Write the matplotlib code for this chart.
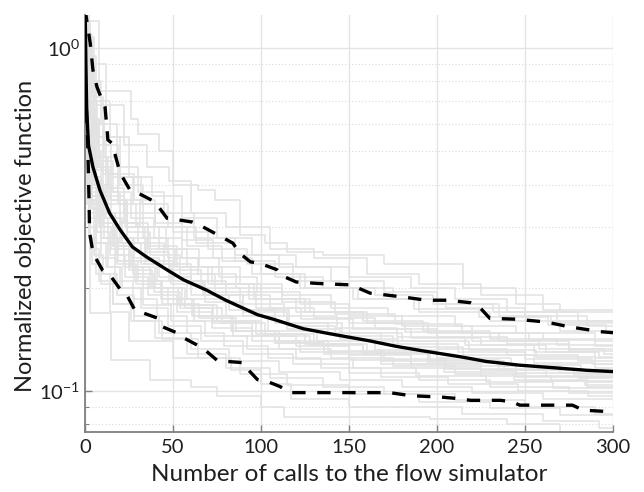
import matplotlib
matplotlib.use("Agg")
import matplotlib.pyplot as plt
from matplotlib.ticker import LogLocator, NullFormatter, FixedLocator

plt.rcParams['font.family'] = ['Lato', 'DejaVu Sans']
plt.rcParams['mathtext.default'] = 'regular'

# ---------------- data ----------------
mean_x = [0, 0.5, 1, 2, 4.5, 8.5, 14, 20, 27, 35, 47, 56, 69, 80, 98, 107, 124, 139,
          162, 177, 192, 213, 228, 247, 266, 285, 300]
mean_y = [1.4, 0.9, 0.65, 0.52, 0.45, 0.385, 0.33, 0.295, 0.263, 0.246, 0.225, 0.211,
          0.197, 0.184, 0.167, 0.162, 0.152, 0.147, 0.14, 0.135, 0.131, 0.126, 0.122,
          0.119, 0.117, 0.115, 0.114]

upper_x = [0, 3, 4.5, 6.8, 9.7, 11.4, 13, 15.3, 20, 25.6, 30, 38, 41, 46.6, 54, 61, 65,
           84, 88, 94, 99, 109, 111, 120, 132, 151, 162, 181, 194, 206, 219, 224, 230,
           245, 262, 275, 293, 300]
upper_y = [1.3, 1.03, 0.863, 0.77, 0.705, 0.673, 0.54, 0.528, 0.432, 0.385, 0.378, 0.36,
           0.349, 0.319, 0.315, 0.311, 0.305, 0.27, 0.252, 0.238, 0.236, 0.226, 0.218,
           0.208, 0.206, 0.204, 0.193, 0.188, 0.184, 0.184, 0.181, 0.176, 0.163, 0.162,
           0.159, 0.154, 0.149, 0.148]

lower_x = [0, 0.5, 1.5, 2.3, 2.6, 4, 5.7, 10, 15, 20, 23.9, 28.4, 33, 41.5, 44, 52, 56,
           64, 68, 75, 81, 90, 93, 98, 103, 111, 116, 126, 158, 173, 185, 203, 213, 219,
           236, 243, 247, 277, 283, 300]
lower_y = [0.78, 0.74, 0.54, 0.36, 0.29, 0.263, 0.246, 0.225, 0.215, 0.198, 0.19, 0.172,
           0.169, 0.163, 0.154, 0.148, 0.143, 0.136, 0.132, 0.123, 0.122, 0.121, 0.115,
           0.108, 0.107, 0.103, 0.099, 0.099, 0.099, 0.099, 0.097, 0.096, 0.095, 0.094,
           0.094, 0.093, 0.091, 0.091, 0.088, 0.087]

# individual optimisation runs (step breakpoints: call number, value held afterwards)
runs_x = [
    [0, 8, 26, 30, 42, 50, 64, 74, 88, 102, 115, 135, 170, 215, 245, 270],
    [0, 3, 12, 22, 35, 48, 60, 80, 105, 130, 160, 190, 225, 260],
    [0, 2, 6, 14, 25, 38, 55, 75, 95, 120, 150, 185, 210, 240, 280],
    [0, 4, 9, 18, 30, 45, 62, 85, 110, 140, 170, 200, 235, 265],
    [0, 1, 5, 11, 20, 33, 50, 70, 92, 118, 145, 175, 205, 250, 285],
    [0, 2, 7, 15, 27, 40, 58, 78, 100, 125, 155, 190, 230, 270],
    [0, 1, 4, 10, 19, 31, 46, 65, 88, 112, 140, 172, 210, 245, 290],
    [0, 3, 8, 16, 26, 39, 55, 76, 98, 122, 150, 180, 220, 260],
    [0, 1, 5, 12, 22, 36, 52, 72, 96, 125, 160, 195, 235, 275],
    [0, 2, 6, 13, 24, 37, 54, 74, 97, 123, 152, 185, 225, 262, 292],
    [0, 1, 3, 9, 17, 28, 42, 60, 82, 108, 138, 168, 200, 240, 280],
    [0, 2, 5, 11, 21, 34, 49, 68, 90, 115, 145, 178, 215, 255, 290],
    [0, 1, 4, 8, 15, 25, 38, 55, 75, 100, 130, 160, 195, 235, 270],
    [0, 1, 3, 7, 14, 23, 36, 52, 72, 95, 122, 150, 185, 225, 265],
    [0, 2, 4, 9, 18, 29, 44, 62, 84, 110, 140, 175, 210, 250, 285],
    [0, 1, 3, 6, 12, 20, 32, 47, 66, 90, 118, 150, 190, 230, 275],
    [0, 1, 2, 5, 10, 18, 28, 42, 60, 82, 110, 145, 180, 220, 260],
    [0, 1, 2, 4, 9, 16, 26, 40, 58, 80, 105, 135, 170, 210, 250, 290],
    [0, 1, 3, 15, 37, 45, 60, 75, 100, 113, 160, 196, 240, 270],
    [0, 1, 3, 8, 16, 28, 44, 64, 88, 115, 150, 190, 230, 270],
    [0, 2, 5, 10, 17, 27, 41, 58, 80, 104, 132, 165, 200, 242, 282],
    [0, 1, 3, 8, 16, 26, 40, 57, 78, 102, 128, 158, 195, 235, 278],
    [0, 3, 7, 14, 24, 36, 51, 70, 93, 120, 150, 182, 220, 258, 295],
    [0, 2, 6, 12, 20, 32, 48, 67, 90, 116, 146, 180, 218, 256, 290],
    [0, 1, 4, 9, 17, 28, 43, 61, 83, 108, 136, 168, 205, 245, 285],
    [0, 4, 10, 20, 32, 47, 63, 85, 108, 135, 165, 198, 232, 268],
    [0, 2, 5, 9, 15, 24, 35, 50, 68, 90, 115, 142, 175, 212, 250, 288],
    [0, 1, 3, 7, 13, 22, 33, 47, 65, 86, 110, 138, 170, 205, 245, 280],
    [0, 3, 6, 12, 19, 29, 42, 58, 78, 100, 128, 158, 192, 230, 268],
    [0, 1, 2, 6, 11, 19, 30, 44, 62, 84, 108, 136, 168, 204, 244, 284],
    [0, 2, 4, 10, 20, 30, 45, 60, 80, 105, 130, 165, 200, 240, 275],
    [0, 1, 4, 10, 18, 27, 39, 54, 72, 95, 120, 150, 185, 225, 262],
    [0, 2, 5, 13, 22, 33, 47, 64, 86, 112, 142, 176, 214, 252, 290],
    [0, 1, 3, 6, 13, 21, 33, 49, 68, 92, 120, 152, 188, 228, 266],
    [0, 5, 11, 19, 28, 40, 55, 73, 95, 122, 152, 187, 224, 263, 296],
    [0, 1, 2, 5, 9, 17, 27, 41, 58, 79, 104, 134, 168, 206, 246, 286],
    [0, 3, 8, 15, 23, 34, 48, 66, 88, 113, 143, 177, 216, 255, 290],
    [0, 1, 3, 9, 16, 25, 37, 53, 73, 97, 125, 158, 196, 238, 278],
    [0, 1, 2, 6, 14, 25, 50, 83, 100, 117, 150, 214, 260, 292],
]
runs_y = [
    [1.2, 0.75, 0.62, 0.56, 0.5, 0.4, 0.385, 0.36, 0.285, 0.27, 0.255, 0.25, 0.235, 0.2, 0.18, 0.17],
    [1.15, 0.9, 0.68, 0.52, 0.45, 0.41, 0.33, 0.30, 0.26, 0.245, 0.22, 0.205, 0.19, 0.172],
    [1.25, 0.95, 0.7, 0.55, 0.42, 0.37, 0.32, 0.28, 0.25, 0.23, 0.215, 0.2, 0.185, 0.17, 0.16],
    [1.0, 0.8, 0.6, 0.45, 0.38, 0.33, 0.28, 0.25, 0.23, 0.21, 0.195, 0.18, 0.165, 0.158],
    [1.1, 0.85, 0.6, 0.48, 0.4, 0.33, 0.29, 0.26, 0.235, 0.21, 0.2, 0.185, 0.175, 0.165, 0.155],
    [0.95, 0.7, 0.52, 0.42, 0.35, 0.3, 0.265, 0.24, 0.22, 0.2, 0.185, 0.17, 0.16, 0.15],
    [1.2, 0.8, 0.55, 0.43, 0.36, 0.3, 0.26, 0.23, 0.205, 0.19, 0.175, 0.165, 0.155, 0.148, 0.14],
    [0.9, 0.62, 0.47, 0.38, 0.32, 0.28, 0.245, 0.215, 0.195, 0.18, 0.165, 0.155, 0.148, 0.142],
    [1.05, 0.7, 0.48, 0.37, 0.31, 0.265, 0.23, 0.205, 0.185, 0.17, 0.158, 0.148, 0.14, 0.133],
    [1.15, 0.66, 0.45, 0.35, 0.29, 0.25, 0.22, 0.195, 0.175, 0.162, 0.152, 0.143, 0.136, 0.13, 0.126],
    [0.85, 0.6, 0.42, 0.33, 0.28, 0.245, 0.215, 0.19, 0.172, 0.158, 0.148, 0.14, 0.133, 0.127, 0.122],
    [1.3, 0.62, 0.4, 0.32, 0.27, 0.235, 0.205, 0.182, 0.165, 0.152, 0.142, 0.134, 0.127, 0.121, 0.117],
    [0.95, 0.55, 0.38, 0.3, 0.26, 0.225, 0.2, 0.178, 0.16, 0.147, 0.137, 0.13, 0.123, 0.118, 0.113],
    [1.1, 0.5, 0.36, 0.29, 0.25, 0.215, 0.19, 0.17, 0.153, 0.14, 0.13, 0.123, 0.117, 0.111, 0.107],
    [0.8, 0.48, 0.34, 0.28, 0.235, 0.205, 0.18, 0.16, 0.145, 0.133, 0.125, 0.118, 0.112, 0.107, 0.103],
    [1.0, 0.45, 0.32, 0.27, 0.23, 0.2, 0.175, 0.155, 0.14, 0.128, 0.12, 0.113, 0.108, 0.103, 0.099],
    [1.2, 0.42, 0.3, 0.25, 0.22, 0.19, 0.165, 0.148, 0.133, 0.122, 0.114, 0.108, 0.103, 0.099, 0.095],
    [0.9, 0.4, 0.28, 0.235, 0.205, 0.18, 0.16, 0.143, 0.128, 0.117, 0.109, 0.103, 0.098, 0.094, 0.09, 0.086],
    [0.8, 0.35, 0.169, 0.123, 0.108, 0.108, 0.103, 0.097, 0.09, 0.084, 0.084, 0.083, 0.08, 0.076],
    [1.0, 0.38, 0.26, 0.21, 0.18, 0.16, 0.142, 0.125, 0.112, 0.104, 0.098, 0.093, 0.089, 0.085],
    [1.05, 0.58, 0.41, 0.33, 0.28, 0.24, 0.21, 0.185, 0.165, 0.15, 0.14, 0.132, 0.125, 0.119, 0.115],
    [0.92, 0.52, 0.37, 0.31, 0.265, 0.23, 0.2, 0.175, 0.158, 0.145, 0.136, 0.128, 0.121, 0.115, 0.11],
    [1.15, 0.6, 0.44, 0.36, 0.3, 0.26, 0.23, 0.205, 0.185, 0.17, 0.158, 0.149, 0.14, 0.133, 0.128],
    [0.98, 0.56, 0.4, 0.32, 0.27, 0.235, 0.21, 0.19, 0.172, 0.158, 0.148, 0.14, 0.132, 0.126, 0.12],
    [1.25, 0.5, 0.35, 0.28, 0.24, 0.21, 0.185, 0.165, 0.15, 0.138, 0.13, 0.122, 0.116, 0.11, 0.106],
    [1.1, 0.72, 0.55, 0.42, 0.35, 0.3, 0.27, 0.24, 0.215, 0.2, 0.19, 0.18, 0.17, 0.16],
    [1.05, 0.75, 0.5, 0.4, 0.33, 0.28, 0.24, 0.21, 0.19, 0.17, 0.155, 0.145, 0.137, 0.13, 0.124, 0.12],
    [0.88, 0.55, 0.4, 0.32, 0.27, 0.23, 0.2, 0.18, 0.163, 0.15, 0.14, 0.131, 0.124, 0.118, 0.113, 0.109],
    [1.2, 0.8, 0.55, 0.43, 0.35, 0.3, 0.26, 0.23, 0.205, 0.185, 0.17, 0.16, 0.15, 0.142, 0.136],
    [0.97, 0.6, 0.42, 0.33, 0.28, 0.24, 0.21, 0.185, 0.165, 0.15, 0.138, 0.128, 0.12, 0.114, 0.108, 0.104],
    [1.12, 0.7, 0.46, 0.38, 0.31, 0.27, 0.235, 0.21, 0.19, 0.175, 0.163, 0.152, 0.144, 0.137, 0.131],
    [0.83, 0.5, 0.37, 0.3, 0.25, 0.22, 0.195, 0.175, 0.158, 0.145, 0.135, 0.127, 0.12, 0.115, 0.111],
    [1.18, 0.65, 0.48, 0.39, 0.33, 0.28, 0.245, 0.22, 0.2, 0.182, 0.168, 0.157, 0.148, 0.141, 0.135],
    [0.93, 0.45, 0.33, 0.27, 0.23, 0.2, 0.178, 0.16, 0.145, 0.133, 0.124, 0.117, 0.111, 0.106, 0.102],
    [1.08, 0.68, 0.52, 0.43, 0.36, 0.31, 0.275, 0.245, 0.22, 0.2, 0.186, 0.174, 0.164, 0.156, 0.15],
    [1.02, 0.52, 0.36, 0.29, 0.245, 0.21, 0.185, 0.165, 0.148, 0.135, 0.125, 0.117, 0.11, 0.105, 0.1, 0.097],
    [0.87, 0.62, 0.45, 0.36, 0.3, 0.255, 0.225, 0.2, 0.18, 0.165, 0.153, 0.144, 0.136, 0.13, 0.125],
    [1.22, 0.58, 0.39, 0.31, 0.265, 0.23, 0.2, 0.178, 0.16, 0.147, 0.137, 0.129, 0.122, 0.116, 0.112],
    [0.85, 0.4, 0.28, 0.22, 0.17, 0.14, 0.125, 0.115, 0.105, 0.095, 0.09, 0.086, 0.082, 0.078],
]

x_ticks = [0, 50, 100, 150, 200, 250, 300]
x_label = "Number of calls to the flow simulator"
y_label = "Normalized objective function"

# ---------------- figure ----------------
fig = plt.figure(figsize=(6.44, 4.92), dpi=100)
ax = fig.add_axes([85 / 644, 1 - 432 / 492, (613 - 85) / 644, (432 - 15) / 492])

ax.set_yscale('log')
ax.set_xlim(0, 300)
ax.set_ylim(0.076, 1.248)

# grid
ax.set_axisbelow(True)
ax.grid(True, which='major', color='#e4e4e4', linewidth=1.0, linestyle='-')
ax.grid(True, which='minor', axis='y', color='#dadada', linewidth=0.8, linestyle=(0, (1, 2)))

for rx, ry in zip(runs_x, runs_y):
    ax.step(rx + [300], ry + [ry[-1]], where='post', color='#e2e2e2', linewidth=1.1, zorder=2)

ax.plot(mean_x, mean_y, color='black', linewidth=2.4, zorder=4, solid_capstyle='butt')
ax.plot(upper_x, upper_y, color='black', linewidth=2.4, dashes=(4.0, 3.5), zorder=4)
ax.plot(lower_x, lower_y, color='black', linewidth=2.4, dashes=(4.0, 3.5), zorder=4)

# ticks
ax.set_xticks(x_ticks)
ax.set_xticklabels([str(t) for t in x_ticks])
ax.yaxis.set_major_locator(FixedLocator([0.1, 1.0]))
ax.set_yticklabels(['10$^{-1}$', '10$^{0}$'])
ax.yaxis.set_minor_locator(LogLocator(base=10, subs=range(2, 10)))
ax.yaxis.set_minor_formatter(NullFormatter())
ax.tick_params(which='both', direction='in', color='#808080', labelsize=14.5,
               labelcolor='#1f1f1f', top=False, right=False)
ax.tick_params(which='major', length=5, width=1)
ax.tick_params(which='minor', length=3, width=0.8)
ax.tick_params(axis='x', pad=5)

for s in ['top', 'right']:
    ax.spines[s].set_visible(False)
for s in ['left', 'bottom']:
    ax.spines[s].set_color('#7f7f7f')
    ax.spines[s].set_linewidth(1.3)

ax.set_xlabel(x_label, fontsize=17.5, color='#1f1f1f', labelpad=6)
ax.set_ylabel(y_label, fontsize=17, color='#1f1f1f')
ax.yaxis.set_label_coords(-0.093, 0.47)

fig.savefig('out.png', dpi=100)
